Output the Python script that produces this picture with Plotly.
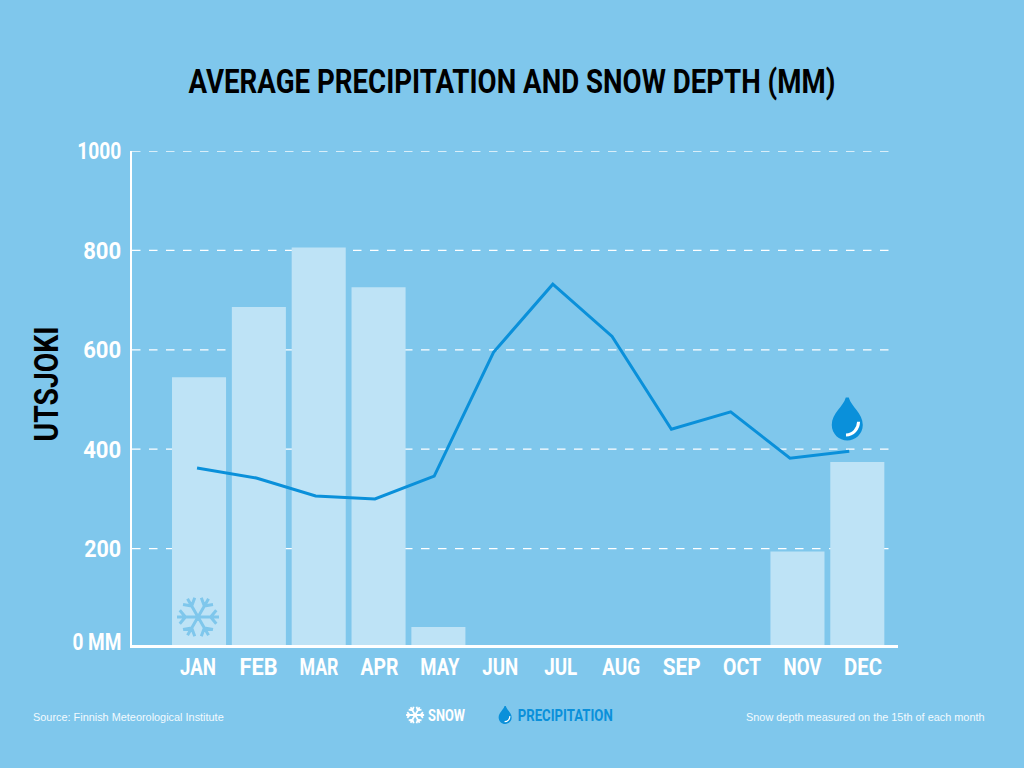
import math
import plotly.graph_objects as go

months = ["JAN", "FEB", "MAR", "APR", "MAY", "JUN", "JUL", "AUG", "SEP", "OCT", "NOV", "DEC"]
snow = [545, 686, 806, 726, 42, 0, 0, 0, 0, 0, 194, 374]
precipitation = [362, 342, 306, 300, 346, 595, 732, 627, 440, 475, 382, 396]
y_ticks = [200, 400, 600, 800, 1000]
y_labels = ["200", "400", "600", "800", "1000"]
zero_label = "0 MM"

BG = "#7FC7EC"
BAR = "#BEE3F6"
BLUE = "#0A90DA"
HEAD = "Roboto"
W, H = 1024, 768
L, R, T, B = 132, 897.7, 151, 645


def px(x):
    return (x - L) / (R - L)


def py(y):
    return (B - y) / (B - T)


def flake_path(r):
    parts = []
    for k in range(6):
        a = math.radians(60 * k)
        ca, sa = math.cos(a), math.sin(a)
        parts.append(f"M0,0L{r*ca:.2f},{r*sa:.2f}")
        bx, by = 0.6 * r * ca, 0.6 * r * sa
        for d in (-50, 50):
            b = a + math.radians(d)
            parts.append(f"M{bx:.2f},{by:.2f}L{bx+0.42*r*math.cos(b):.2f},{by+0.42*r*math.sin(b):.2f}")
    return "".join(parts)


def flake(cx, cy, r, color, width):
    return dict(type="path", xref="paper", yref="paper", xsizemode="pixel", ysizemode="pixel",
                xanchor=px(cx), yanchor=py(cy), path=flake_path(r),
                line=dict(color=color, width=width), layer="above")


def drop_path(s):
    return (f"M{-1.5*s:.2f},{21.5*s:.2f}L{1.5*s:.2f},{21.5*s:.2f}"
            f"C{4*s:.2f},{12*s:.2f} {15.5*s:.2f},{6*s:.2f} {15.5*s:.2f},{-6*s:.2f}"
            f"C{15.5*s:.2f},{-15*s:.2f} {8*s:.2f},{-21.5*s:.2f} 0,{-21.5*s:.2f}"
            f"C{-8*s:.2f},{-21.5*s:.2f} {-15.5*s:.2f},{-15*s:.2f} {-15.5*s:.2f},{-6*s:.2f}"
            f"C{-15.5*s:.2f},{6*s:.2f} {-4*s:.2f},{12*s:.2f} {-1.5*s:.2f},{21.5*s:.2f}Z")


def drop(cx, cy, s):
    body = dict(type="path", xref="paper", yref="paper", xsizemode="pixel", ysizemode="pixel",
                xanchor=px(cx), yanchor=py(cy), path=drop_path(s),
                fillcolor=BLUE, line=dict(width=0), layer="above")
    glint = dict(type="path", xref="paper", yref="paper", xsizemode="pixel", ysizemode="pixel",
                 xanchor=px(cx), yanchor=py(cy),
                 path=f"M{11.3*s:.2f},{-2.7*s:.2f}C{11*s:.2f},{-10*s:.2f} {6*s:.2f},{-16*s:.2f} {-1.3*s:.2f},{-16*s:.2f}",
                 line=dict(color="white", width=max(1, 3 * s)), layer="above")
    return [body, glint]


shapes = [
    dict(type="line", xref="paper", yref="y", x0=0, x1=px(891), y0=v, y1=v,
         line=dict(color="#D8EEF9" if v == 1000 else "white", width=2 if v == 1000 else 1.2, dash="8.5px,8.5px"),
         layer="below")
    for v in y_ticks
]
shapes.append(flake(198, 617, 21, "#7FC7EC", 3))
shapes.append(flake(415, 715, 9, "white", 1.8))
shapes += drop(847, 419, 1.0)
shapes += drop(505, 715, 0.42)


def note(text, x, y, size, color, anchor="center", family=HEAD, weight=700, angle=0):
    return dict(text=text, x=px(x), y=py(y), xref="paper", yref="paper", textangle=angle, showarrow=False,
                font=dict(family=family, size=size, color=color, weight=weight),
                xanchor=anchor, yanchor="middle", borderpad=0, borderwidth=0, align="center")


annotations = [
    note("AVERAGE PRECIPITATION AND SNOW DEPTH (MM)", 512, 81, 33, "black"),
    note("UTSJOKI", 46, 384, 33, "black", angle=-90),
    note("Source: Finnish Meteorological Institute", 33, 717, 10.9, "#F2FAFE", "left", "Liberation Sans", 400),
    note("Snow depth measured on the 15th of each month", 985, 717, 10.9, "#F2FAFE", "right", "Liberation Sans", 400),
    note("SNOW", 446, 715, 17, "white"),
    note("PRECIPITATION", 565, 715, 17, BLUE),
    note(zero_label, 97.5, 641.7, 24, "white"),
]

fig = go.Figure()
fig.add_bar(x=months, y=snow, marker=dict(color=BAR, line=dict(width=0)), width=0.903, name="Snow",
            hoverinfo="skip")
fig.add_scatter(x=months, y=precipitation, mode="lines", line=dict(color=BLUE, width=3), name="Precipitation",
                xaxis="x2", hoverinfo="skip")
# carries the month labels, whose spacing differs slightly from the bars in the reference
fig.add_scatter(x=months, y=[None] * len(months), mode="lines", xaxis="x3", hoverinfo="skip", showlegend=False)

tick_font = dict(family=HEAD, size=24, color="white", weight=700)
fig.update_layout(
    width=W, height=H,
    margin=dict(l=L, r=W - R, t=T, b=H - B, pad=0),
    paper_bgcolor=BG, plot_bgcolor=BG,
    showlegend=False, hovermode=False, shapes=shapes, annotations=annotations,
    xaxis=dict(type="category", categoryorder="array", categoryarray=months,
               range=[-1.120, 11.680], showgrid=False, zeroline=False,
               showline=True, linecolor="white", linewidth=2.7,
               ticks="", showticklabels=False),
    xaxis2=dict(type="category", categoryorder="array", categoryarray=months, overlaying="x",
                range=[-1.097, 11.822], visible=False),
    xaxis3=dict(type="category", categoryorder="array", categoryarray=months, overlaying="x", side="bottom",
                anchor="y", range=[-1.093, 11.579], showgrid=False, zeroline=False, showline=False,
                ticks="", ticklabelstandoff=5, tickfont=tick_font),
    yaxis=dict(range=[6, 1000], tickvals=y_ticks, ticktext=y_labels, showgrid=False, zeroline=False,
               showline=True, linecolor="white", linewidth=2, ticks="", ticklabelstandoff=4, tickfont=tick_font),
)

# The reference uses a tall condensed display face: narrow the real text to the same widths.
post = """
document.body.style.margin='0';
document.body.style.background='#7FC7EC';
document.documentElement.style.overflow='hidden';
var widths={'AVERAGE PRECIPITATION AND SNOW DEPTH (MM)':647,'UTSJOKI':115,'SNOW':37,'PRECIPITATION':95,'0 MM':49,
 '1000':44,'800':38,'600':38,'400':38,'200':37,
 'JAN':36,'FEB':38,'MAR':39,'APR':38,'MAY':39,'JUN':36,'JUL':33,'AUG':38,'SEP':38,'OCT':38,'NOV':38,'DEC':38};
document.querySelectorAll('.annotation-text, .xtick text, .x3tick text, .ytick text').forEach(function(t){
  var w=widths[t.textContent];
  if(!w) return;
  t.setAttribute('textLength', w);
  t.setAttribute('lengthAdjust','spacingAndGlyphs');
});
"""
fig.write_html("out.html", post_script=post, config={"displayModeBar": False})
